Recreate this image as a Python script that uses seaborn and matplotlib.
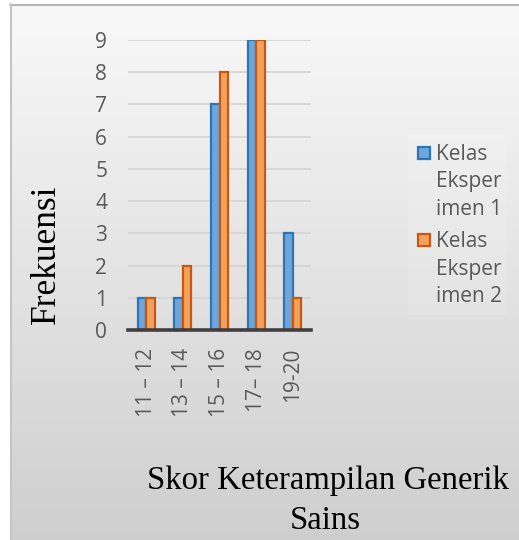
import numpy as np
import pandas as pd
import matplotlib
matplotlib.use("Agg")
import matplotlib.pyplot as plt
import seaborn as sns
from matplotlib.patches import Rectangle

# ---- data ----
categories = ["11 – 12", "13 – 14", "15 – 16", "17– 18", "19-20"]
kelas1 = [1, 1, 7, 9, 3]
kelas2 = [1, 2, 8, 9, 1]
series_names = ["Kelas\nEksper\nimen 1", "Kelas\nEksper\nimen 2"]
yticks = list(range(0, 10))

df = pd.DataFrame({
    "cat": categories * 2,
    "val": kelas1 + kelas2,
    "series": [series_names[0]] * len(categories) + [series_names[1]] * len(categories),
})

sns.set_theme(style="white")
plt.rcParams["font.family"] = ["Open Sans", "DejaVu Sans"]

W, H = 519, 540
fig = plt.figure(figsize=(W / 100, H / 100), dpi=100)
fig.patch.set_facecolor("white")

# background gradient panel (pixel coordinates)
bg = fig.add_axes([0, 0, 1, 1], zorder=-10)
bg.set_xlim(0, W)
bg.set_ylim(H, 0)
bg.axis("off")
grad = np.linspace(0, 1, 256).reshape(-1, 1)
top = np.array([0.975, 0.975, 0.975])
bot = np.array([0.81, 0.81, 0.81])
img = top + (bot - top) * grad[..., None]
img = np.repeat(img, 2, axis=1)
bg.imshow(img, extent=[10, W, H, 4], aspect="auto", interpolation="bicubic")
bg.plot([10, W], [4.5, 4.5], color="#b4b4b4", lw=1.5)
bg.plot([10.5, 10.5], [4, H], color="#c4c4c4", lw=1.5)

ax = fig.add_axes([128 / W, 1 - 330 / H, (311 - 128) / W, (330 - 40) / H])
ax.patch.set_alpha(0)

blue_face, blue_edge = "#6ea6dc", "#2e75b6"
org_face, org_edge = "#f4a15e", "#c9580f"

sns.barplot(data=df, x="cat", y="val", hue="series", order=categories,
            palette=[blue_face, org_face], width=0.46, ax=ax, legend=False,
            saturation=1, linewidth=0)
for cont, ec in zip(ax.containers, [blue_edge, org_edge]):
    for p in cont:
        p.set_edgecolor(ec)
        p.set_linewidth(1.6)
        p.set_zorder(3)

ax.set_ylim(0, 9)
ax.set_xlim(-0.5, 4.5)
ax.set_yticks(yticks)
ax.yaxis.grid(True, color="#d4d4d4", lw=1.2, zorder=0)
ax.set_axisbelow(True)
for s in ["left", "right", "top"]:
    ax.spines[s].set_visible(False)
ax.spines["bottom"].set_color("#404040")
ax.spines["bottom"].set_linewidth(2.6)
ax.spines["bottom"].set_zorder(5)
ax.tick_params(axis="y", length=0, pad=15, labelsize=15, labelcolor="#595959")
ax.tick_params(axis="x", length=0, pad=13, labelsize=15, labelcolor="#595959",
               labelrotation=90)
ax.set_xlabel("")
ax.set_ylabel("")

serif = ["Liberation Serif", "DejaVu Serif"]
fig.text(46 / W, 1 - 254 / H, "Frekuensi", rotation=90, ha="center", va="center",
         fontsize=25.5, family=serif, color="black")
fig.text(328 / W, 1 - 481 / H, "Skor Keterampilan Generik", ha="center", va="center",
         fontsize=23.6, family=serif, color="black")
fig.text(325 / W, 1 - 521 / H, "Sains", ha="center", va="center",
         fontsize=23.6, family=serif, color="black")

# legend (drawn in pixel coordinates on the background panel)
bg.add_patch(Rectangle((408, 135), 99, 180, facecolor="white", alpha=0.12,
                       edgecolor="none", zorder=1))
leg_y = [153, 240]
for name, fc, ec, yc in zip(series_names, [blue_face, org_face],
                            [blue_edge, org_edge], leg_y):
    bg.add_patch(Rectangle((417.5, yc - 6.5), 12, 12, facecolor=fc,
                           edgecolor=ec, lw=1.6, zorder=2))
    bg.text(436, yc + 29, name, ha="left", va="center", fontsize=15,
            color="#595959", linespacing=1.4, zorder=3)

fig.savefig("out.png", dpi=100)
